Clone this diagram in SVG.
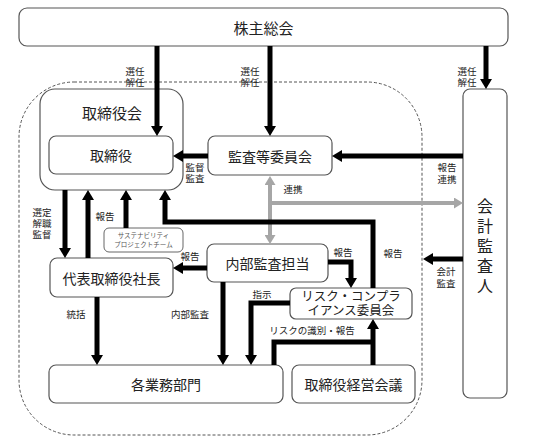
<svg xmlns="http://www.w3.org/2000/svg" width="533" height="440" viewBox="0 0 533 440">
<style>
.box{fill:#fff;stroke:#555;stroke-width:1.2}
.t{font-family:"Noto Sans CJK JP","Noto Sans CJK SC",sans-serif;fill:#222;text-anchor:middle;dominant-baseline:central}
.s{font-family:"Liberation Sans","Noto Sans CJK JP",sans-serif}
.big{font-size:14px}
.lb{font-size:9.5px}
.ln{fill:none;stroke:#000;stroke-width:5;stroke-linejoin:miter}
.gr{fill:none;stroke:#a6a6a6;stroke-width:4;stroke-linejoin:miter}
</style>
<defs>
<marker id="ah" markerUnits="userSpaceOnUse" markerWidth="10" markerHeight="12" viewBox="0 0 10 12" refX="0" refY="6" orient="auto"><path d="M0,0L10,6L0,12z" fill="#000"/></marker>
<marker id="ag" markerUnits="userSpaceOnUse" markerWidth="9" markerHeight="11" viewBox="0 0 9 11" refX="0" refY="5.5" orient="auto-start-reverse"><path d="M0,0L9,5.5L0,11z" fill="#a6a6a6"/></marker>
</defs>
<rect x="0" y="0" width="533" height="440" fill="#fff"/>

<g id="boundary">
<rect x="19" y="82" width="403" height="353" rx="55" fill="none" stroke="#555" stroke-width="1" stroke-dasharray="3,2"/>
</g>

<g id="kabunushi">
<rect class="box" x="19" y="8" width="489" height="38" rx="8"/>
<text class="t" x="263.5" y="27" font-size="15">株主総会</text>
</g>

<g id="torishimariyakukai">
<rect class="box" x="40" y="89" width="143" height="101" rx="15"/>
<text class="t" x="112" y="112" font-size="15">取締役会</text>
</g>

<g id="torishimariyaku">
<rect class="box" x="49" y="136" width="124" height="38" rx="7"/>
<text class="t big" x="111" y="155">取締役</text>
</g>

<g id="kansa-iinkai">
<rect class="box" x="208" y="136" width="124" height="39" rx="7"/>
<text class="t big" x="270" y="156">監査等委員会</text>
</g>

<g id="kaikei-kansanin">
<rect class="box" x="463" y="89" width="44" height="309" rx="7"/>
<text class="t s" x="485" y="206" font-size="16">会</text>
<text class="t s" x="485" y="226" font-size="16">計</text>
<text class="t s" x="485" y="246" font-size="16">監</text>
<text class="t s" x="485" y="266" font-size="16">査</text>
<text class="t s" x="485" y="286" font-size="16">人</text>
</g>

<g id="sustainability">
<rect x="104" y="228" width="79" height="24" rx="5" fill="#fff" stroke="#666" stroke-width="1"/>
<text class="t s" x="143.5" y="235.5" font-size="6.5" style="fill:#555">サステナビリティ</text>
<text class="t s" x="143.5" y="244" font-size="6.5" style="fill:#555">プロジェクトチーム</text>
</g>

<g id="shacho">
<rect class="box" x="50" y="258" width="123" height="39" rx="7"/>
<text class="t big" x="111.5" y="278">代表取締役社長</text>
</g>

<g id="naibu-kansa">
<rect class="box" x="207" y="244" width="121" height="38" rx="7"/>
<text class="t big" x="267.5" y="263">内部監査担当</text>
</g>

<g id="risk-compliance">
<rect class="box" x="290" y="288" width="122" height="31" rx="6"/>
<text class="t s" x="351" y="296.5" font-size="12.5">リスク・コンプラ</text>
<text class="t s" x="351" y="311" font-size="12.5">イアンス委員会</text>
</g>

<g id="gyomu-bumon">
<rect class="box" x="49" y="365" width="234" height="38" rx="7"/>
<text class="t big" x="166" y="384">各業務部門</text>
</g>

<g id="keiei-kaigi">
<rect class="box" x="292" y="365" width="123" height="38" rx="7"/>
<text class="t big" x="353.5" y="384">取締役経営会議</text>
</g>

<g id="connectors">
<path class="ln" d="M157,46V126" marker-end="url(#ah)"/>
<path class="ln" d="M270,46V126" marker-end="url(#ah)"/>
<path class="ln" d="M486,46V79" marker-end="url(#ah)"/>
<path class="ln" d="M208,156H183" marker-end="url(#ah)"/>
<path class="ln" d="M463,156H342" marker-end="url(#ah)"/>
<path class="gr" d="M270,185V235" marker-start="url(#ag)" marker-end="url(#ag)"/>
<path class="gr" d="M270,203H454" marker-end="url(#ag)"/>
<path class="ln" d="M373,288V222H165V200" marker-end="url(#ah)"/>
<path class="ln" d="M65,190V248" marker-end="url(#ah)"/>
<path class="ln" d="M88,258V200" marker-end="url(#ah)"/>
<path class="ln" d="M126,228V200" marker-end="url(#ah)"/>
<path class="ln" d="M207,268H183" marker-end="url(#ah)"/>
<path class="ln" d="M328,262H351V278" marker-end="url(#ah)"/>
<path class="ln" d="M223,282V355" marker-end="url(#ah)"/>
<path class="ln" d="M290,303H251V355" marker-end="url(#ah)"/>
<path class="ln" d="M97,297V355" marker-end="url(#ah)"/>
<path class="ln" d="M373,365V329" marker-end="url(#ah)"/>
<path class="ln" d="M274,365V342H373"/>
<path class="ln" d="M463,259H433" marker-end="url(#ah)"/>
</g>

<g id="labels">
<text class="t s lb" x="135" y="71">選任</text>
<text class="t s lb" x="135" y="82">解任</text>
<text class="t s lb" x="250" y="71">選任</text>
<text class="t s lb" x="250" y="82">解任</text>
<text class="t s lb" x="467" y="71">選任</text>
<text class="t s lb" x="467" y="82">解任</text>
<text class="t s lb" x="195" y="167">監督</text>
<text class="t s lb" x="195" y="178.5">監査</text>
<text class="t s lb" x="447" y="167.5">報告</text>
<text class="t s lb" x="447" y="179">連携</text>
<text class="t s lb" x="293" y="189">連携</text>
<text class="t s lb" x="42" y="212.5">選定</text>
<text class="t s lb" x="42" y="223.5">解職</text>
<text class="t s lb" x="42" y="234.5">監督</text>
<text class="t s lb" x="105" y="216">報告</text>
<text class="t s lb" x="190" y="256">報告</text>
<text class="t s lb" x="343" y="252">報告</text>
<text class="t s lb" x="393" y="253">報告</text>
<text class="t s lb" x="446" y="271.5">会計</text>
<text class="t s lb" x="446" y="283">監査</text>
<text class="t s lb" x="262" y="294">指示</text>
<text class="t s lb" x="76" y="314">統括</text>
<text class="t s lb" x="190" y="314">内部監査</text>
<text class="t s lb" x="312" y="330">リスクの識別・報告</text>
</g>
</svg>
